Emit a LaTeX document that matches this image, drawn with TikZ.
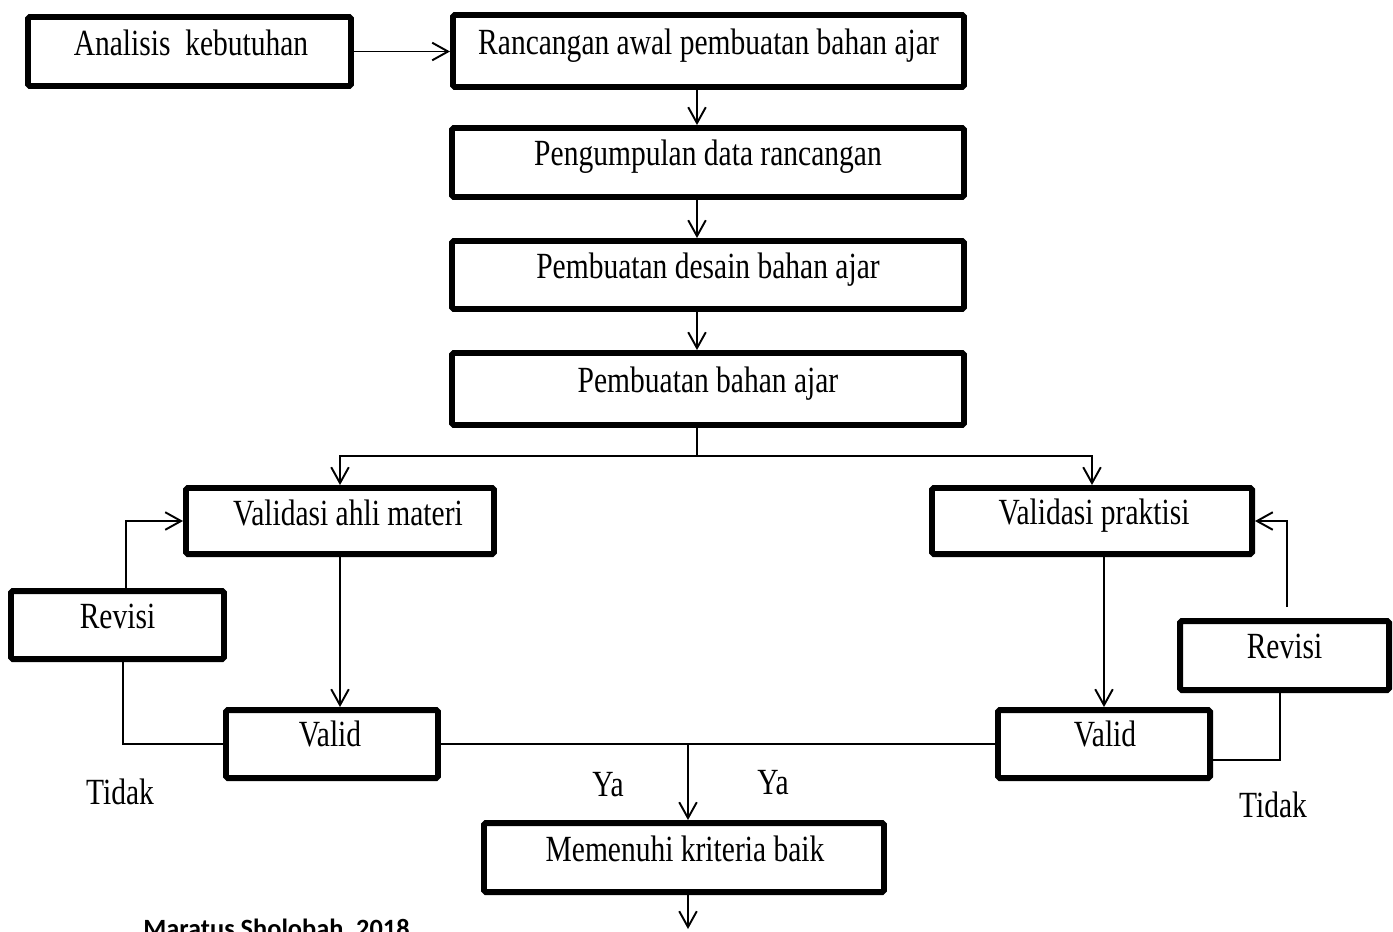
\documentclass[tikz,border=0pt]{standalone}
\usepackage{fontspec}
\setmainfont{Liberation Serif}[FakeStretch=0.8]
\newfontfamily\capfont{Carlito}
\usetikzlibrary{arrows.meta,calc}
\begin{document}
\begin{tikzpicture}[x=0.02cm,y=-0.02cm,
  box/.style 2 args={draw, line width=3.4pt, rounded corners=1pt,
    minimum width=#1*0.02cm, minimum height=#2*0.02cm, inner sep=0pt},
  txt/.style={font=\fontsize{21}{25}\selectfont, text height=0.7em, text depth=0.2em, inner sep=0pt},
  conn/.style={line width=1.1pt},
  arr/.style={conn, -{Straight Barb[length=9pt,width=10pt]}},
]
\useasboundingbox (0,0) rectangle (1393,931);

% boxes
\node[box={323}{69}, label={[txt,xshift=0.03cm,yshift=0.0cm]center:Analisis\ \ kebutuhan}] (a) at (189.5,51.5) {};
\node[box={511}{72}, label={[txt,yshift=0.02cm]center:Rancangan awal pembuatan bahan ajar}] (r) at (708.5,51) {};
\node[box={512}{69}, label={[txt,yshift=0.02cm]center:Pengumpulan data rancangan}] (p) at (708,162.5) {};
\node[box={512}{68}, label={[txt,yshift=0.02cm]center:Pembuatan desain bahan ajar}] (d) at (708,275) {};
\node[box={512}{72}, label={[txt,yshift=0.02cm]center:Pembuatan bahan ajar}] (b) at (708,389) {};
\node[box={308}{66}, label={[txt,xshift=0.16cm,yshift=0.0cm]center:Validasi ahli materi}] (va) at (340,521) {};
\node[box={320}{66}, label={[txt,xshift=0.04cm,yshift=0.02cm]center:Validasi praktisi}] (vp) at (1092,521) {};
\node[box={213}{68}, label={[txt,yshift=0.02cm]center:Revisi}] (rL) at (117.5,625) {};
\node[box={212}{68}, label={[txt,xshift=-0.04cm,yshift=0.03cm]center:Valid}] (vL) at (332,744) {};
\node[box={212}{68}, label={[txt,xshift=0.02cm,yshift=0.03cm]center:Valid}] (vR) at (1104,744) {};
\node[box={209}{69}, label={[txt,yshift=0.02cm]center:Revisi}] (rR) at (1284.5,655.5) {};
\node[box={400}{69}, label={[txt,xshift=0.02cm,yshift=0.0cm]center:Memenuhi kriteria baik}] (m) at (684,857.5) {};

% labels
\node[txt] (ya1) at (608,792) {Ya};
\node[txt] (ya2) at (773,790) {Ya};
\node[txt] (td1) at (120,800) {Tidak};
\node[txt] (td2) at (1273,813) {Tidak};
\node[anchor=base west, inner sep=0pt, font=\capfont\bfseries\fontsize{15}{18}\selectfont] (src) at (143,937) {Maratus Sholobah, 2018};

% helper coordinates
\coordinate (spine) at (697,0);
\coordinate (split) at (697,456);
\coordinate (loopL) at (126,0);
\coordinate (backL) at (123,0);
\coordinate (rRb) at (1280,760);
\coordinate (rRt) at (1287,607);
\coordinate (join) at (688,744);
\coordinate (end) at (688,929);

% connectors
\draw[arr] (a.east) -- (a.east -| r.west);
\draw[arr] (r.south -| spine) -- (p.north -| spine);
\draw[arr] (p.south -| spine) -- (d.north -| spine);
\draw[arr] (d.south -| spine) -- (b.north -| spine);
\draw[conn] (b.south -| spine) -- (split);
\draw[arr] (split) -| (va.north);
\draw[arr] (split) -| (vp.north);
\draw[arr] (va.south) -- (va.south |- vL.north);
\draw[arr] (vR.north |- vp.south) -- (vR.north);
\draw[arr] (rL.north -| loopL) |- (va.west);
\draw[conn] (vL.west) -| (rL.south -| backL);
\draw[conn] (vR.east |- rRb) -- (rRb) -- (rRb |- rR.south);
\draw[arr] (rRt) |- (vp.east);
\draw[conn] (vL.east) -- (vR.west);
\draw[arr] (join) -- (join |- m.north);
\draw[arr] (m.south -| join) -- (end);
\end{tikzpicture}
\end{document}
